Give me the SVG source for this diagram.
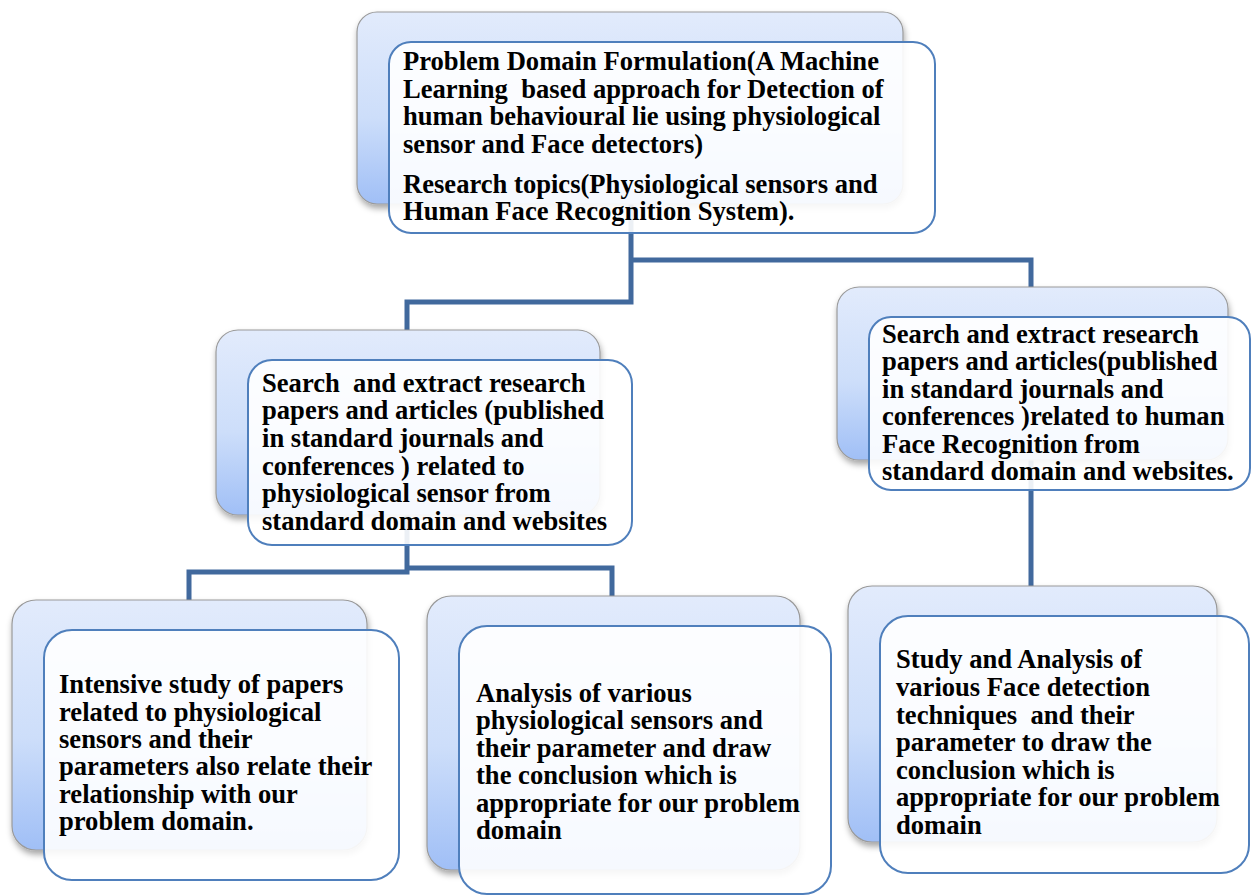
<svg xmlns="http://www.w3.org/2000/svg" width="1251" height="895" viewBox="0 0 1251 895">
<defs>
<linearGradient id="bg" x1="0" y1="0" x2="0" y2="1">
<stop offset="0" stop-color="#e2ebfc"/>
<stop offset="0.55" stop-color="#cddefa"/>
<stop offset="1" stop-color="#a0bff6"/>
</linearGradient>
<filter id="sh" x="-10%" y="-10%" width="125%" height="130%">
<feDropShadow dx="1" dy="4" stdDeviation="3" flood-color="#000" flood-opacity="0.35"/>
</filter>
<style>
.back{fill:url(#bg);stroke:#9a9a9a;stroke-width:1.2;filter:url(#sh)}
.front{fill:#ffffff;fill-opacity:0.9;stroke:#4f7fbc;stroke-width:2}
.t{font-family:"Liberation Serif","Times New Roman",serif;font-weight:bold;font-size:26.6px;fill:#000;white-space:pre}
.c{fill:none;stroke:#41699d;stroke-width:5;stroke-linejoin:miter}
</style>
</defs>
<rect width="1251" height="895" fill="#ffffff"/>
<g id="connectors">
<path class="c" d="M631 120 V302 H407 V330"/>
<path class="c" d="M631 260 H1031 V287"/>
<path class="c" d="M407 450 V572 H189 V600"/>
<path class="c" d="M407 568 H612 V596"/>
<path class="c" d="M1031 400 V586"/>
</g>
<g id="node-top">
<rect class="back" x="357" y="12" width="546" height="192" rx="20"/>
<rect class="front" x="389" y="42" width="546" height="191" rx="22"/>
<text class="t" xml:space="preserve"><tspan x="403" y="70">Problem Domain Formulation(A Machine</tspan><tspan x="403" y="97.7">Learning  based approach for Detection of</tspan><tspan x="403" y="125.3">human behavioural lie using physiological</tspan><tspan x="403" y="153">sensor and Face detectors)</tspan><tspan x="403" y="192.7">Research topics(Physiological sensors and</tspan><tspan x="403" y="220.3">Human Face Recognition System).</tspan></text>
</g>
<g id="node-search-physio">
<rect class="back" x="216" y="330" width="384" height="185" rx="22"/>
<rect class="front" x="248" y="360" width="384" height="185" rx="24"/>
<text class="t" xml:space="preserve"><tspan x="262" y="391.7">Search  and extract research</tspan><tspan x="262" y="419.3">papers and articles (published</tspan><tspan x="262" y="447">in standard journals and</tspan><tspan x="262" y="474.6">conferences ) related to</tspan><tspan x="262" y="502.3">physiological sensor from</tspan><tspan x="262" y="529.9">standard domain and websites</tspan></text>
</g>
<g id="node-search-face">
<rect class="back" x="837" y="287" width="391" height="173" rx="22"/>
<rect class="front" x="869" y="317" width="381" height="173" rx="22"/>
<text class="t" xml:space="preserve"><tspan x="882" y="342.7">Search and extract research</tspan><tspan x="882" y="370.2">papers and articles(published</tspan><tspan x="882" y="397.7">in standard journals and</tspan><tspan x="882" y="425.2">conferences )related to human</tspan><tspan x="882" y="452.7">Face Recognition from</tspan><tspan x="882" y="480.2">standard domain and websites.</tspan></text>
</g>
<g id="node-intensive">
<rect class="back" x="12" y="600" width="355" height="250" rx="24"/>
<rect class="front" x="44" y="630" width="355" height="250" rx="28"/>
<text class="t" xml:space="preserve"><tspan x="59" y="693.3">Intensive study of papers</tspan><tspan x="59" y="720.6">related to physiological</tspan><tspan x="59" y="747.9">sensors and their</tspan><tspan x="59" y="775.2">parameters also relate their</tspan><tspan x="59" y="802.5">relationship with our</tspan><tspan x="59" y="829.8">problem domain.</tspan></text>
</g>
<g id="node-analysis-physio">
<rect class="back" x="427" y="596" width="373" height="274" rx="24"/>
<rect class="front" x="459" y="626" width="372" height="268" rx="28"/>
<text class="t" xml:space="preserve"><tspan x="476" y="701.7">Analysis of various</tspan><tspan x="476" y="729.2">physiological sensors and</tspan><tspan x="476" y="756.7">their parameter and draw</tspan><tspan x="476" y="784.2">the conclusion which is</tspan><tspan x="476" y="811.7">appropriate for our problem</tspan><tspan x="476" y="839.2">domain</tspan></text>
</g>
<g id="node-analysis-face">
<rect class="back" x="848" y="586" width="369" height="256" rx="24"/>
<rect class="front" x="880" y="616" width="369" height="257" rx="28"/>
<text class="t" xml:space="preserve"><tspan x="896" y="668.3">Study and Analysis of</tspan><tspan x="896" y="695.9">various Face detection</tspan><tspan x="896" y="723.5">techniques  and their</tspan><tspan x="896" y="751.1">parameter to draw the</tspan><tspan x="896" y="778.7">conclusion which is</tspan><tspan x="896" y="806.3">appropriate for our problem</tspan><tspan x="896" y="833.9">domain</tspan></text>
</g>
</svg>
